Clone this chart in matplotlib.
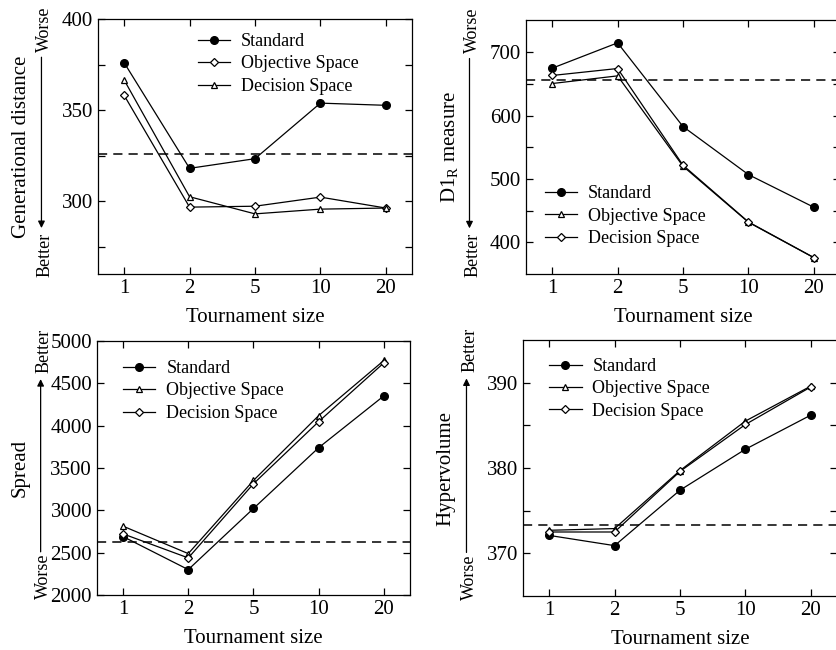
import matplotlib
matplotlib.use('Agg')
import matplotlib.pyplot as plt
import numpy as np

plt.rcParams['font.family'] = ['Liberation Serif', 'DejaVu Serif']
plt.rcParams['mathtext.fontset'] = 'custom'
plt.rcParams['mathtext.rm'] = 'Liberation Serif'
plt.rcParams['mathtext.it'] = 'Liberation Serif:italic'

# Shared x axis
tournament_sizes = ['1', '2', '5', '10', '20']

# Generational distance
gd_standard = [376.0, 318.0, 323.3, 353.8, 352.6]
gd_objective = [358.1, 296.7, 297.2, 302.2, 296.2]
gd_decision = [366.5, 302.4, 293.0, 295.6, 296.2]
gd_ref = 326.0

# D1_R measure
d1r_standard = [674.7, 714.7, 582.6, 506.8, 455.3]
d1r_objective = [650.5, 662.6, 520.0, 431.6, 375.8]
d1r_decision = [663.2, 674.2, 521.6, 432.1, 375.8]
d1r_ref = 656.0

# Spread
spread_standard = [2690, 2300, 3022, 3740, 4352]
spread_objective = [2813, 2489, 3353, 4119, 4770]
spread_decision = [2722, 2438, 3314, 4048, 4742]
spread_ref = 2623

# Hypervolume
hv_standard = [372.1, 370.9, 377.4, 382.2, 386.2]
hv_objective = [372.7, 372.9, 379.7, 385.5, 389.6]
hv_decision = [372.5, 372.5, 379.6, 385.1, 389.5]
hv_ref = 373.3

FS = 15

fig = plt.figure(figsize=(8.36, 6.5), dpi=100)

panels = [
    # rect, series, ref, ylim, yticks, minor, ylabel, better_up, legend anchor, swap markers
    ([0.1172, 0.5785, 0.3756, 0.3923], (gd_standard, gd_objective, gd_decision), gd_ref,
     (260, 400), [300, 350, 400], [275, 325, 375], 'Generational distance', False, (0.318, 0.945), True),
    ([0.6292, 0.5785, 0.3756, 0.3900], (d1r_standard, d1r_objective, d1r_decision), d1r_ref,
     (350, 750), [400, 500, 600, 700], [450, 550, 650], r'D1$_{\mathrm{R}}$ measure', False, (0.06, 0.35), False),
    ([0.1160, 0.0846, 0.3744, 0.3908], (spread_standard, spread_objective, spread_decision), spread_ref,
     (2000, 5000), list(range(2000, 5001, 500)), [], 'Spread', True, (0.083, 0.925), False),
    ([0.6256, 0.0831, 0.3756, 0.3938], (hv_standard, hv_objective, hv_decision), hv_ref,
     (365, 395), [370, 380, 390], [375, 385], 'Hypervolume', True, (0.083, 0.93), False),
]

x = np.arange(len(tournament_sizes))

for rect, (std, obj, dec), ref, ylim, yticks, minor, ylabel, better_up, anchor, swap in panels:
    ax = fig.add_axes(rect)
    ax.axhline(ref, color='black', lw=1.1, ls=(0, (6, 4)))

    ax.plot(x, std, '-o', color='black', lw=0.9, ms=5.5, mfc='black', mec='black',
            label='Standard')
    if swap:
        # first panel: diamond = objective space, triangle = decision space
        ax.plot(x, obj, '-D', color='black', lw=0.9, ms=4.5, mfc='white', mec='black',
                mew=0.9, label='Objective Space')
        ax.plot(x, dec, '-^', color='black', lw=0.9, ms=5, mfc='white', mec='black',
                mew=0.9, label='Decision Space')
    else:
        ax.plot(x, obj, '-^', color='black', lw=0.9, ms=5, mfc='white', mec='black',
                mew=0.9, label='Objective Space')
        ax.plot(x, dec, '-D', color='black', lw=0.9, ms=4.5, mfc='white', mec='black',
                mew=0.9, label='Decision Space')

    ax.set_xlim(-0.4, 4.4)
    ax.set_ylim(*ylim)
    ax.set_xticks(x)
    ax.set_xticklabels(tournament_sizes)
    ax.set_yticks(yticks)
    ax.set_yticks(minor, minor=True)
    ax.tick_params(which='both', direction='in', top=True, right=True,
                   labelsize=FS, width=0.9)
    ax.tick_params(which='major', length=5, pad=3.5)
    ax.tick_params(which='minor', length=5)
    for s in ax.spines.values():
        s.set_linewidth(0.9)
    ax.set_xlabel('Tournament size', fontsize=FS, labelpad=7.5)

    ax.legend(loc='upper left', bbox_to_anchor=anchor, frameon=False, fontsize=FS - 2,
              borderpad=0, borderaxespad=0, handlelength=1.8, handletextpad=0.6,
              labelspacing=0.3, numpoints=1)

    # y label with Better/Worse arrow
    ax.text(-0.245, 0.5, ylabel, transform=ax.transAxes, rotation=90,
            ha='center', va='center', fontsize=FS)
    top_word, bot_word = ('Better', 'Worse') if better_up else ('Worse', 'Better')
    ax.text(-0.17, 0.96, top_word, transform=ax.transAxes, rotation=90,
            ha='center', va='center', fontsize=FS - 2)
    ax.text(-0.17, 0.075, bot_word, transform=ax.transAxes, rotation=90,
            ha='center', va='center', fontsize=FS - 2)
    if better_up:
        start, end = (-0.18, 0.17), (-0.18, 0.85)
    else:
        start, end = (-0.18, 0.85), (-0.18, 0.18)
    ax.annotate('', xy=end, xytext=start, xycoords='axes fraction',
                textcoords='axes fraction',
                arrowprops=dict(arrowstyle='-|>', color='black', lw=0.9,
                                mutation_scale=10, shrinkA=0, shrinkB=0))

fig.savefig('out.png', dpi=100)
